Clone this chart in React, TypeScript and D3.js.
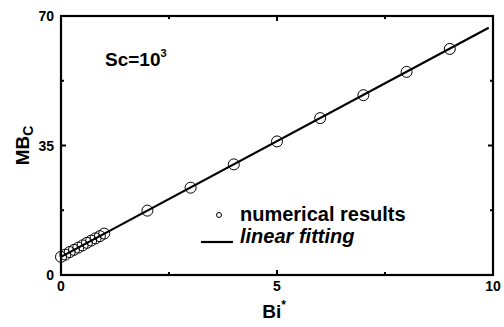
import * as d3 from "d3";

const biValues = [0, 0.1, 0.2, 0.3, 0.4, 0.5, 0.6, 0.7, 0.8, 0.9, 1.0, 2, 3, 4, 5, 6, 7, 8, 9];
const mbValues = [4.9, 5.5, 6.2, 6.8, 7.4, 8.0, 8.7, 9.3, 9.9, 10.5, 11.2, 17.4, 23.6, 29.9, 36.1, 42.4, 48.6, 54.9, 61.1];
const fitBi = [0, 9.9];
const fitMb = [4.9, 66.8];
const xTicks = [0, 5, 10];
const xMinor = [2.5, 7.5];
const yTicks = [0, 35, 70];
const yMinor = [17.5, 52.5];

export default function App() {
  const width = 504;
  const height = 327;
  const left = 61, right = 493, top = 16, bottom = 275;

  const x = d3.scaleLinear([0, 10], [left, right]);
  const y = d3.scaleLinear([0, 70], [bottom, top]);
  const line = d3.line<number>()
    .x((_, i) => x(fitBi[i]))
    .y(d => y(d));

  const font = "Arial, 'Liberation Sans', sans-serif";
  const tick = 5;

  return (
    <svg width={width} height={height} style={{ position: "absolute", left: 0, top: 0, background: "#fff" }}
      fontFamily={font} fontWeight="bold">
      {/* fitted line */}
      <path d={line(fitMb) ?? ""} fill="none" stroke="#000" strokeWidth={2.2} />
      {/* numerical points */}
      {biValues.map((b, i) => (
        <circle key={i} cx={x(b)} cy={y(mbValues[i])} r={5.5} fill="none" stroke="#000" strokeWidth={1} />
      ))}
      {/* frame */}
      <rect x={left} y={top} width={right - left} height={bottom - top} fill="none" stroke="#000" strokeWidth={2.2} />
      {/* x ticks */}
      {xTicks.map(t => (
        <g key={"x" + t}>
          <line x1={x(t)} x2={x(t)} y1={bottom} y2={bottom - tick} stroke="#000" strokeWidth={2} />
          <line x1={x(t)} x2={x(t)} y1={top} y2={top + tick} stroke="#000" strokeWidth={2} />
          <text x={x(t)} y={bottom + 16} textAnchor="middle" fontSize={14}>{t}</text>
        </g>
      ))}
      {xMinor.map(t => (
        <g key={"xm" + t}>
          <line x1={x(t)} x2={x(t)} y1={bottom} y2={bottom - 3} stroke="#000" strokeWidth={2} />
          <line x1={x(t)} x2={x(t)} y1={top} y2={top + 3} stroke="#000" strokeWidth={2} />
        </g>
      ))}
      {/* y ticks */}
      {yTicks.map(t => (
        <g key={"y" + t}>
          <line x1={left} x2={left + tick} y1={y(t)} y2={y(t)} stroke="#000" strokeWidth={2} />
          <line x1={right} x2={right - tick} y1={y(t)} y2={y(t)} stroke="#000" strokeWidth={2} />
          <text x={left - 7} y={y(t) + 5} textAnchor="end" fontSize={14}>{t}</text>
        </g>
      ))}
      {yMinor.map(t => (
        <g key={"ym" + t}>
          <line x1={left} x2={left + 3} y1={y(t)} y2={y(t)} stroke="#000" strokeWidth={2} />
          <line x1={right} x2={right - 3} y1={y(t)} y2={y(t)} stroke="#000" strokeWidth={2} />
        </g>
      ))}
      {/* axis titles */}
      <text x={274} y={318} textAnchor="middle" fontSize={19}>
        Bi<tspan dy={-9} fontSize={12}>*</tspan>
      </text>
      <text transform={`translate(29, ${(top + bottom) / 2}) rotate(-90)`} textAnchor="middle" fontSize={19}>
        MB<tspan dy={4} fontSize={14}>C</tspan>
      </text>
      {/* annotation */}
      <text x={105} y={66} fontSize={19}>
        Sc=10<tspan dy={-9} fontSize={11}>3</tspan>
      </text>
      {/* legend */}
      <circle cx={219} cy={215} r={2.5} fill="none" stroke="#000" strokeWidth={1} />
      <text x={240} y={221} fontSize={20}>numerical results</text>
      <line x1={201} x2={233} y1={242} y2={242} stroke="#000" strokeWidth={2.2} />
      <text x={240} y={243} fontSize={20} fontStyle="italic">linear fitting</text>
    </svg>
  );
}
